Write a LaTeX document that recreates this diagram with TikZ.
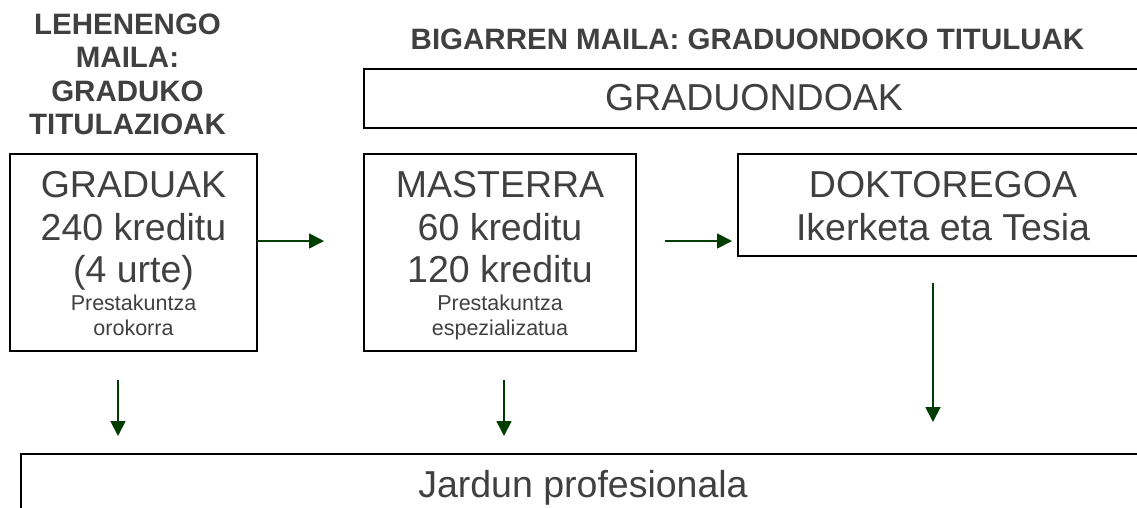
\documentclass[tikz,border=0pt]{standalone}
\usepackage{fontspec}
\setmainfont{Liberation Sans}
\usetikzlibrary{arrows.meta}
\definecolor{txt}{HTML}{404040}
\definecolor{arr}{HTML}{003D00}
\tikzset{
 box/.style={draw=black, line width=2pt, inner sep=0pt},
 big/.style={font=\fontsize{37.5}{43}\selectfont, text=txt, anchor=base, inner sep=0pt},
 small/.style={font=\fontsize{21.5}{25}\selectfont, text=txt, anchor=base, inner sep=0pt},
 head/.style={font=\fontsize{29.5}{33}\selectfont\bfseries, text=txt, anchor=base, inner sep=0pt},
 conn/.style={draw=arr, line width=1.8pt, -{Triangle[length=15pt,width=15pt]}},
}
\begin{document}
\begin{tikzpicture}[x=1pt,y=-1pt]
\useasboundingbox (0,0) rectangle (1137,508);
\clip (0,0) rectangle (1137,508);
% boxes
\node[box, minimum width=247pt, minimum height=197pt] (grad) at (133.5,252.5) {};
\node[box, minimum width=272pt, minimum height=197pt] (mast) at (500,252.5) {};
\node[box, minimum width=796pt, minimum height=59pt] (gond) at (762,98.5) {};
\node[box, minimum width=422pt, minimum height=102pt] (dokt) at (949,205) {};
\node[box, minimum width=1139pt, minimum height=76pt] (jard) at (590.5,492) {};
% headers
\node[head] (h1) at (127.5,35) {LEHENENGO};
\node[head] (h2) at (127.5,68) {MAILA:};
\node[head] (h3) at (127.5,102) {GRADUKO};
\node[head] (h4) at (127.5,135) {TITULAZIOAK};
\node[head] (h5) at (747.5,50) {BIGARREN MAILA: GRADUONDOKO TITULUAK};
% texts
\node[big] (t1) at (754,111) {GRADUONDOAK};
\node[big] (g1) at (133.5,197) {GRADUAK};
\node[big] (g2) at (133.5,240) {240 kreditu};
\node[big] (g3) at (133.5,282) {(4 urte)};
\node[small] (g4) at (133.5,310) {Prestakuntza};
\node[small] (g5) at (133.5,335) {orokorra};
\node[big] (m1) at (500,197) {MASTERRA};
\node[big] (m2) at (500,240) {60 kreditu};
\node[big] (m3) at (500,282) {120 kreditu};
\node[small] (m4) at (500,310) {Prestakuntza};
\node[small] (m5) at (500,335) {espezializatua};
\node[big] (k1) at (943,197) {DOKTOREGOA};
\node[big] (k2) at (943,240) {Ikerketa eta Tesia};
\node[big] (j1) at (583,497) {Jardun profesionala};
% arrows
\coordinate (a1s) at (257,241);
\coordinate (a1e) at (324,241);
\coordinate (a2s) at (665,241);
\coordinate (a2e) at (732,241);
\coordinate (d1s) at (118,380);
\coordinate (d1e) at (118,436);
\coordinate (d2s) at (504,380);
\coordinate (d2e) at (504,436);
\coordinate (d3s) at (933,283);
\coordinate (d3e) at (933,422);
\draw[conn] (a1s) -- (a1e);
\draw[conn] (a2s) -- (a2e);
\draw[conn] (d1s) -- (d1e);
\draw[conn] (d2s) -- (d2e);
\draw[conn] (d3s) -- (d3e);
\end{tikzpicture}
\end{document}
